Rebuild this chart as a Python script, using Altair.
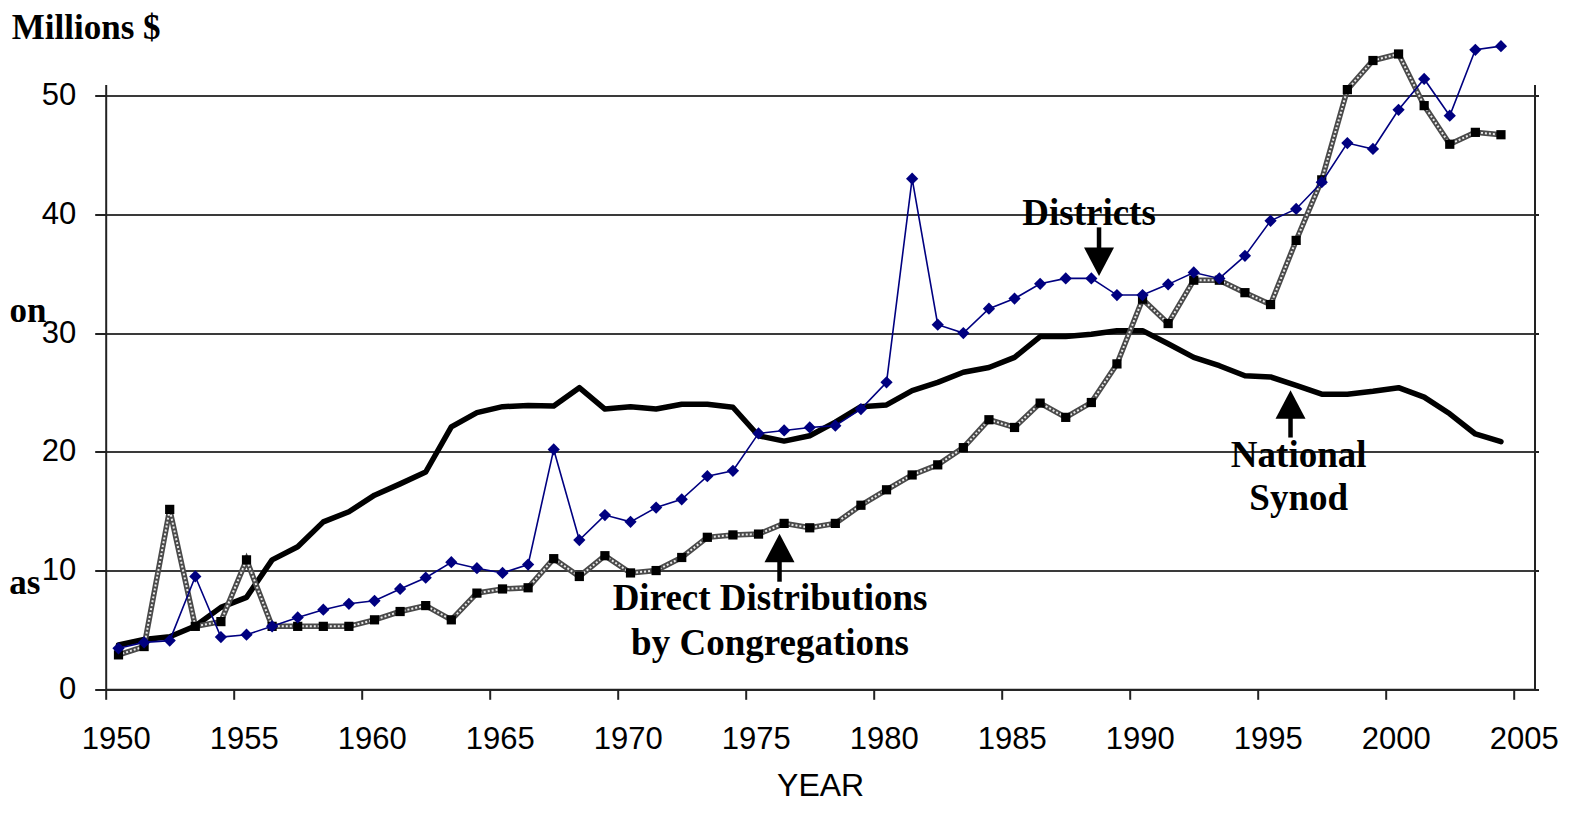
import altair as alt
import pandas as pd

# ---- data ----
years = list(range(1950, 2005))

districts = [3.45, 3.95, 4.1, 9.5, 4.4, 4.6, 5.3, 6.05, 6.7, 7.2,
             7.45, 8.45, 9.4, 10.7, 10.2, 9.8, 10.5, 20.2, 12.57, 14.67,
             14.1, 15.3, 16.0, 17.95, 18.4, 21.55, 21.8, 22.05, 22.2, 23.6,
             25.85, 43.0, 30.7, 30.0, 32.05, 32.9, 34.15, 34.6, 34.6, 33.2,
             33.2, 34.1, 35.1, 34.6, 36.5, 39.45, 40.45, 42.7, 46.0, 45.5,
             48.8, 51.4, 48.3, 53.85, 54.16]

direct = [2.9, 3.6, 15.15, 5.3, 5.7, 10.9, 5.3, 5.3, 5.3, 5.3,
          5.85, 6.55, 7.05, 5.85, 8.1, 8.45, 8.55, 11.0, 9.5, 11.25,
          9.8, 10.0, 11.1, 12.8, 13.0, 13.07, 13.97, 13.6, 13.97, 15.5,
          16.8, 18.05, 18.9, 20.35, 22.7, 22.05, 24.1, 22.9, 24.15, 27.4,
          32.85, 30.8, 34.45, 34.45, 33.4, 32.4, 37.8, 42.9, 50.5, 52.95,
          53.5, 49.15, 45.9, 46.9, 46.7]

national = [3.73, 4.2, 4.43, 5.33, 6.9, 7.74, 10.9, 12.0, 14.1, 14.95,
            16.35, 17.3, 18.3, 22.1, 23.3, 23.8, 23.9, 23.85, 25.4, 23.6,
            23.8, 23.6, 24.0, 24.0, 23.75, 21.35, 20.9, 21.35, 22.5, 23.8,
            23.95, 25.15, 25.85, 26.7, 27.1, 27.95, 29.7, 29.7, 29.9, 30.2,
            30.2, 29.1, 27.95, 27.25, 26.4, 26.3, 25.6, 24.85, 24.85, 25.1,
            25.4, 24.6, 23.2, 21.5, 20.85]

x_ticks = [1950, 1955, 1960, 1965, 1970, 1975, 1980, 1985, 1990, 1995, 2000, 2005]
y_ticks = [0, 10, 20, 30, 40, 50]

# annotation labels (bold serif)
center_texts = ["Districts", "Direct Distributions", "by Congregations", "National", "Synod"]
center_x = [1988.41, 1975.95, 1975.95, 1996.6, 1996.6]
center_y = [39.1, 6.68, 2.89, 18.74, 15.08]

left_texts = ["Millions $"]
left_x = [1946.33]
left_y = [54.72]

right_texts = ["on", "as"]
right_x = [1947.69, 1947.45]
right_y = [30.95, 8.0]

# arrows: shaft start/end, head centre, direction
arrow_x = [1988.8, 1976.32, 1996.28]
arrow_y1 = [38.9, 9.06, 21.2]
arrow_y2 = [36.6, 11.2, 23.3]
arrow_head_y = [36.0, 11.9, 23.98]
arrow_dir = ["down", "up", "up"]

# ---- tables ----
df = pd.DataFrame({"year": years, "Districts": districts,
                   "Direct": direct, "National": national})
df["x"] = df["year"] + 0.5

ctext = pd.DataFrame({"x": center_x, "y": center_y, "text": center_texts})
ltext = pd.DataFrame({"x": left_x, "y": left_y, "text": left_texts})
rtext = pd.DataFrame({"x": right_x, "y": right_y, "text": right_texts})
arrows = pd.DataFrame({"x": arrow_x, "y1": arrow_y1, "y2": arrow_y2,
                       "hy": arrow_head_y, "dir": arrow_dir})

W, H = 1428.8, 604.8
xscale = alt.Scale(domain=[1950, 2005.81], nice=False, zero=False)
yscale = alt.Scale(domain=[0, 50.93], nice=False, zero=True)

AX = "#222222"
xaxis = alt.Axis(values=x_ticks, format="d", title="YEAR", grid=False,
                 tickSize=10, tickColor=AX, tickWidth=2,
                 domainColor=AX, domainWidth=2,
                 labelFont="Liberation Sans", labelFontSize=31, labelColor="black",
                 labelPadding=25, labelOffset=10, labelFlush=False, labelOverlap=False,
                 titleFont="Liberation Sans", titleFontSize=32,
                 titleFontWeight="normal", titleColor="black", titlePadding=16)

yaxis_left = alt.Axis(values=y_ticks, title=None, orient="left", grid=True,
                      gridColor="#3a3a3a", gridWidth=2,
                      tickSize=11, tickColor=AX, tickWidth=2,
                      domainColor=AX, domainWidth=2,
                      labelFont="Liberation Sans", labelFontSize=31,
                      labelColor="black", labelPadding=19)

yaxis_right = alt.Axis(values=y_ticks, title=None, orient="right", grid=False,
                       labels=False, ticks=True, tickSize=4, tickColor=AX,
                       tickWidth=2, domainColor=AX, domainWidth=2)


def X(field="x"):
    return alt.X(f"{field}:Q", scale=xscale, axis=xaxis)


def Y(field, axis=None):
    return alt.Y(f"{field}:Q", scale=yscale, axis=axis)


base = alt.Chart(df)

national_line = base.mark_line(color="black", strokeWidth=5.5,
                               strokeJoin="round", strokeCap="round").encode(
    x=X(), y=Y("National", yaxis_left))

direct_under = base.mark_line(color="#4a4a4a", strokeWidth=5.5).encode(
    x=X(), y=Y("Direct"))
direct_over = base.mark_line(color="#e8e8e8", strokeWidth=2,
                             strokeDash=[2, 2]).encode(x=X(), y=Y("Direct"))
direct_pts = base.mark_point(shape="square", filled=True, color="black",
                             size=85, opacity=1).encode(x=X(), y=Y("Direct"))

dist_line = base.mark_line(color="#000080", strokeWidth=1.6).encode(
    x=X(), y=Y("Districts", yaxis_right))
dist_pts = base.mark_point(shape="diamond", filled=True, color="#000080",
                           size=150, opacity=1).encode(x=X(), y=Y("Districts"))

serif = dict(font="Liberation Serif", fontWeight="bold", color="black")

t_center = alt.Chart(ctext).mark_text(align="center", baseline="alphabetic",
                                      fontSize=37, **serif).encode(
    x=X(), y=Y("y"), text="text:N")
t_left = alt.Chart(ltext).mark_text(align="left", baseline="alphabetic",
                                    fontSize=35, **serif).encode(
    x=X(), y=Y("y"), text="text:N")
t_right = alt.Chart(rtext).mark_text(align="right", baseline="alphabetic",
                                     fontSize=35, **serif).encode(
    x=X(), y=Y("y"), text="text:N")

shafts = alt.Chart(arrows).mark_rule(color="black", strokeWidth=4.5).encode(
    x=X(), y=Y("y1"), y2="y2:Q")
heads_down = alt.Chart(arrows).transform_filter(alt.datum.dir == "down").mark_point(
    shape="M-1,-0.95L1,-0.95L0,0.95Z", filled=True, color="black", size=900,
    opacity=1, strokeWidth=0).encode(x=X(), y=Y("hy"))
heads_up = alt.Chart(arrows).transform_filter(alt.datum.dir == "up").mark_point(
    shape="M-1,0.95L1,0.95L0,-0.95Z", filled=True, color="black", size=900,
    opacity=1, strokeWidth=0).encode(x=X(), y=Y("hy"))

chart = alt.layer(
    national_line, direct_under, direct_over, direct_pts, dist_line, dist_pts,
    shafts, heads_down, heads_up, t_center, t_left, t_right
).resolve_scale(y="shared").resolve_axis(y="independent").properties(
    width=W, height=H,
    autosize=alt.AutoSizeParams(type="none"),
    padding={"left": 97.7, "top": 76.5, "right": 33.5, "bottom": 112.7},
    background="white",
).configure_view(stroke=None)

chart.save("out.html", embed_options={"renderer": "svg", "actions": False})
